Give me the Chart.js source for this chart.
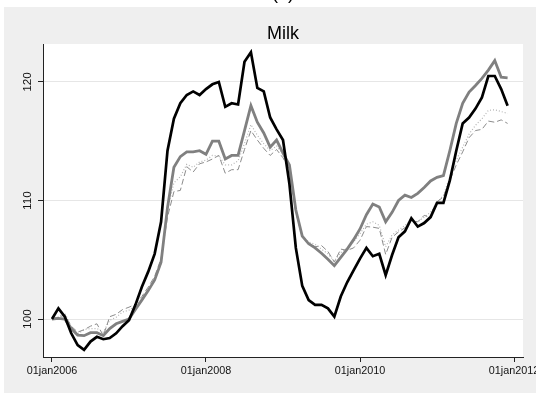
<!DOCTYPE html>
<html>
<head>
<meta charset="utf-8">
<script src="https://cdn.jsdelivr.net/npm/chart.js@4/dist/chart.umd.min.js"></script>
<style>
  html, body { margin: 0; padding: 0; background: #ffffff; }
  #wrap { position: relative; width: 536px; height: 393px; }
</style>
</head>
<body>
<div id="wrap"><canvas id="c" width="536" height="393"></canvas></div>
<script>
// Monthly milk price indices, Jan 2006 - Dec 2011 (Jan 2006 = 100)
const firstYear = 2006;
const lastYear = 2011;
const months = [];
for (let y = firstYear; y <= lastYear; y++) {
  for (let m = 1; m <= 12; m++) months.push(y + '-' + String(m).padStart(2, '0'));
}

const seriesA = [
  100.0, 100.9, 100.2, 98.8, 97.8, 97.4, 98.1, 98.5, 98.3, 98.4, 98.8, 99.4,
  99.9, 101.2, 102.7, 104.0, 105.5, 108.2, 114.2, 116.9, 118.2, 118.9, 119.2, 118.9,
  119.4, 119.8, 120.0, 117.9, 118.2, 118.1, 121.7, 122.5, 119.5, 119.2, 117.0, 116.0,
  115.1, 111.4, 106.0, 102.8, 101.6, 101.2, 101.2, 100.9, 100.2, 101.9, 103.1, 104.1,
  105.1, 106.0, 105.3, 105.5, 103.7, 105.4, 106.9, 107.4, 108.5, 107.8, 108.1, 108.6,
  109.8, 109.8, 111.7, 114.2, 116.5, 117.0, 117.75, 118.7, 120.5, 120.5, 119.4, 118.0
];
const seriesB = [
  100.0, 100.05, 100.0, 99.2, 98.65, 98.6, 98.85, 98.85, 98.6, 99.2, 99.6, 99.8,
  100.0, 100.8, 101.6, 102.4, 103.3, 104.8, 109.4, 112.8, 113.7, 114.1, 114.1, 114.2,
  113.9, 115.0, 115.0, 113.5, 113.8, 113.8, 115.9, 118.0, 116.6, 115.7, 114.5, 115.1,
  114.0, 113.0, 109.2, 107.0, 106.35, 106.0, 105.55, 105.05, 104.5, 105.2, 105.9, 106.7,
  107.6, 108.8, 109.7, 109.45, 108.2, 109.0, 110.0, 110.45, 110.25, 110.6, 111.1, 111.65,
  111.95, 112.1, 114.2, 116.5, 118.2, 119.15, 119.7, 120.3, 121.0, 121.8, 120.4, 120.35
];
const seriesC = [
  100.0, 100.15, 100.35, 99.4, 98.9, 99.1, 99.4, 99.6, 98.6, 100.2, 100.4, 100.8,
  101.0, 101.25, 101.9, 102.7, 103.6, 105.1, 108.6, 110.75, 110.85, 112.85, 112.4, 113.1,
  113.25, 113.5, 113.8, 112.3, 112.6, 112.6, 114.3, 115.9, 115.1, 114.4, 113.8, 114.3,
  113.6, 112.6, 109.0, 106.9, 106.4, 106.1, 106.2, 105.7, 104.8, 105.9, 105.8, 106.0,
  106.65, 107.8, 107.75, 107.65, 105.45, 106.9, 107.35, 107.7, 108.3, 108.2, 108.75, 108.55,
  109.9, 110.3, 111.7, 113.0, 114.1, 115.3, 115.9, 116.0, 116.7, 116.6, 116.8, 116.5
];
const seriesD = [
  100.0, 100.2, 100.5, 99.35, 98.75, 99.1, 99.2, 99.2, 98.9, 99.9, 100.15, 100.6,
  100.75, 101.1, 101.75, 102.5, 103.3, 104.7, 109.2, 111.5, 112.0, 113.05, 112.8, 113.25,
  113.4, 113.8, 113.75, 113.0, 113.0, 113.35, 114.8, 116.4, 115.5, 114.8, 114.2, 114.6,
  113.9, 112.9, 109.1, 107.0, 106.5, 106.3, 105.9, 105.5, 104.9, 105.6, 106.0, 106.5,
  107.2, 108.0, 108.2, 107.9, 106.1, 107.1, 107.5, 107.9, 108.3, 108.2, 108.6, 109.0,
  109.8, 110.45, 112.0, 113.4, 114.5, 115.6, 116.35, 116.9, 117.6, 117.65, 117.5, 117.35
];

const tickLabels = ['01jan2006', '01jan2008', '01jan2010', '01jan2012'];
const tickYears = [2006, 2008, 2010, 2012];
const yTicks = [100, 110, 120];
const panelTitle = 'Milk';
const figureLabel = '(a)';

const FONT = '"Liberation Sans", Arial, Helvetica, sans-serif';
const tickMonths = tickYears.map(y => (y - firstYear) * 12);
const toPoints = arr => arr.map((v, i) => ({ x: i, y: v }));

// Light grey graph region, white plot region and the headings
const framePlugin = {
  id: 'frame',
  beforeDraw(chart) {
    const { ctx, chartArea: a } = chart;
    ctx.save();
    ctx.fillStyle = '#efefef';
    ctx.fillRect(4, 7, chart.width - 4, chart.height - 7);
    ctx.fillStyle = '#ffffff';
    ctx.fillRect(a.left, a.top, a.right - a.left, a.bottom - a.top);
    const cx = (a.left + a.right) / 2;
    ctx.fillStyle = '#000000';
    ctx.textAlign = 'center';
    ctx.textBaseline = 'alphabetic';
    ctx.font = '18px ' + FONT;
    ctx.fillText(panelTitle, cx, 38.5);
    ctx.fillText(figureLabel, cx, -1.5);
    ctx.restore();
  }
};

new Chart(document.getElementById('c'), {
  type: 'line',
  data: {
    labels: months,
    datasets: [
      { label: 'A', data: toPoints(seriesA), borderColor: '#000000', borderWidth: 2.7 },
      { label: 'B', data: toPoints(seriesB), borderColor: '#808080', borderWidth: 2.8 },
      { label: 'C', data: toPoints(seriesC), borderColor: '#8c8c8c', borderWidth: 1, borderDash: [6, 3] },
      { label: 'D', data: toPoints(seriesD), borderColor: '#b4b4b4', borderWidth: 1.2, borderDash: [1, 2] }
    ]
  },
  options: {
    responsive: false,
    animation: false,
    elements: {
      point: { radius: 0, hoverRadius: 0 },
      line: { tension: 0, fill: false, borderCapStyle: 'butt', borderJoinStyle: 'miter' }
    },
    layout: { padding: { top: 44, left: 14, right: 13, bottom: 10 } },
    plugins: {
      legend: { display: false },
      title: { display: false },
      tooltip: { enabled: false }
    },
    scales: {
      x: {
        type: 'linear',
        min: -1.4,
        max: 73.4,
        afterBuildTicks: s => { s.ticks = tickMonths.map(v => ({ value: v })); },
        afterFit: s => { s.height = 26; s.paddingLeft = 0; s.paddingRight = 0; },
        ticks: {
          autoSkip: false,
          maxRotation: 0,
          minRotation: 0,
          padding: 3,
          color: '#111111',
          font: { family: FONT, size: 10.8 },
          callback: v => tickLabels[tickMonths.indexOf(v)]
        },
        grid: { drawOnChartArea: false, drawTicks: true, tickLength: 5, tickColor: '#222222' },
        border: { display: true, color: '#222222', width: 1 }
      },
      y: {
        type: 'linear',
        min: 96.8,
        max: 123.2,
        afterBuildTicks: s => { s.ticks = yTicks.map(v => ({ value: v })); },
        afterFit: s => { s.width = 29; s.paddingTop = 0; s.paddingBottom = 0; },
        ticks: {
          minRotation: 90,
          maxRotation: 90,
          crossAlign: 'center',
          padding: 0,
          color: '#111111',
          font: { family: FONT, size: 11.8 }
        },
        grid: { color: '#e6e6e6', lineWidth: 1, drawTicks: true, tickLength: 5, tickColor: '#222222' },
        border: { display: true, color: '#222222', width: 1 }
      }
    }
  },
  plugins: [framePlugin]
});
</script>
</body>
</html>
